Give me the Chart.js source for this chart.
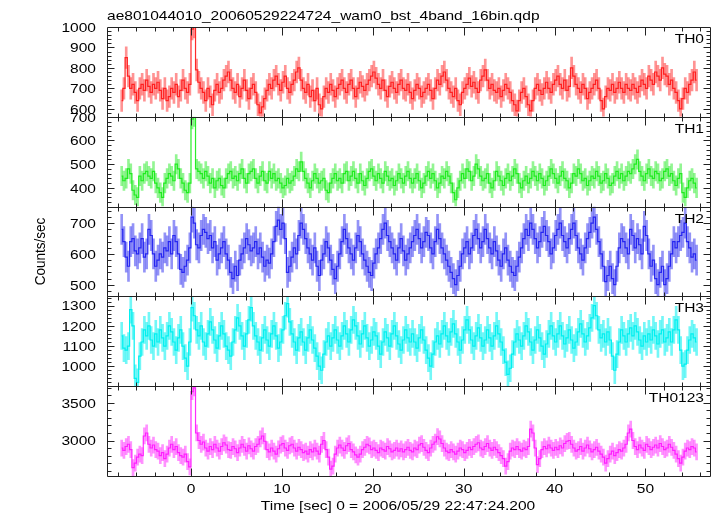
<!DOCTYPE html>
<html>
<head>
<meta charset="utf-8">
<script src="https://cdn.jsdelivr.net/npm/chart.js@4.4.1/dist/chart.umd.min.js"></script>
<style>
  html, body { margin: 0; padding: 0; background: #fff; }
  canvas { display: block; }
</style>
</head>
<body>
<canvas id="lc" width="717" height="516"></canvas>
<script>
// WAM bst light curve: 4 energy bands + sum, 0.25 s bins
const titleText = 'ae801044010_20060529224724_wam0_bst_4band_16bin.qdp';
const xTitle = 'Time [sec] 0 = 2006/05/29 22:47:24.200';
const yTitle = 'Counts/sec';
const panelNames = ['TH0', 'TH1', 'TH2', 'TH3', 'TH0123'];
const binStart = -7.75;
const binWidth = 0.25;

const th0 = [
  640, 700, 850, 760, 700, 720, 680, 640, 700, 720, 690, 740, 710, 680, 720, 700,
  730, 690, 650, 700, 640, 660, 700, 680, 720, 660, 690, 740, 700, 680, 720, 990,
  1000, 790, 730, 700, 680, 640, 700, 660, 620, 690, 720, 680, 700, 740, 760, 780,
  740, 700, 680, 720, 660, 700, 740, 690, 650, 700, 720, 680, 620, 580, 610, 650,
  690, 720, 700, 740, 760, 720, 690, 730, 760, 700, 680, 720, 740, 780, 800, 740,
  700, 680, 720, 660, 690, 640, 700, 620, 600, 660, 700, 680, 720, 690, 660, 700,
  720, 740, 700, 680, 720, 740, 700, 660, 700, 730, 710, 690, 720, 740, 760, 780,
  750, 720, 700, 740, 690, 660, 710, 730, 700, 680, 720, 740, 700, 690, 720, 680,
  650, 690, 720, 700, 660, 680, 700, 720, 690, 650, 700, 740, 720, 760, 780, 740,
  700, 680, 660, 700, 640, 620, 680, 700, 720, 750, 710, 730, 700, 680, 740, 760,
  790, 740, 700, 720, 690, 680, 700, 660, 690, 720, 700, 680, 640, 620, 590, 640,
  680, 700, 660, 620, 590, 640, 700, 720, 690, 670, 700, 730, 700, 680, 720, 740,
  760, 720, 700, 740, 690, 710, 800, 760, 720, 700, 680, 720, 700, 650, 680, 700,
  720, 740, 700, 640, 600, 660, 700, 690, 720, 680, 700, 730, 700, 680, 720, 700,
  690, 720, 700, 680, 710, 740, 720, 700, 760, 740, 720, 780, 760, 740, 800, 770,
  760, 720, 740, 700, 680, 640, 600, 650, 700, 680, 720, 740, 780, 740
];
const th1 = [
  450, 430, 440, 480, 460, 390, 370, 360, 450, 430, 460, 470, 450, 440, 470, 420,
  400, 380, 360, 420, 440, 460, 450, 430, 500, 480, 440, 420, 390, 380, 420, 690,
  700, 480, 470, 460, 440, 470, 450, 420, 440, 400, 430, 440, 410, 400, 440, 460,
  470, 440, 450, 430, 460, 480, 440, 420, 460, 470, 480, 440, 420, 450, 470, 430,
  420, 470, 440, 460, 430, 440, 420, 400, 410, 440, 420, 430, 450, 480, 470, 510,
  470, 440, 420, 400, 430, 460, 440, 420, 430, 440, 390, 380, 420, 440, 460, 430,
  440, 420, 460, 470, 430, 450, 470, 440, 420, 460, 430, 410, 440, 470, 480, 450,
  430, 460, 440, 420, 470, 450, 430, 440, 410, 430, 460, 440, 420, 450, 470, 440,
  420, 440, 460, 430, 400, 420, 450, 470, 440, 460, 430, 400, 420, 450, 440, 470,
  450, 420, 380, 350, 400, 430, 460, 440, 480, 470, 430, 450, 500, 480, 450, 430,
  440, 460, 420, 400, 430, 470, 450, 430, 410, 440, 460, 430, 450, 480, 460, 420,
  400, 430, 450, 420, 440, 470, 450, 430, 460, 440, 410, 430, 450, 480, 460, 440,
  420, 450, 470, 440, 430, 400, 420, 460, 450, 480, 460, 430, 440, 410, 430, 450,
  440, 470, 450, 420, 430, 460, 440, 410, 420, 450, 470, 440, 460, 430, 450, 470,
  460, 480, 500, 520, 470, 450, 430, 460, 480, 450, 440, 470, 460, 430, 440, 470,
  480, 450, 460, 430, 410, 440, 460, 380, 360, 400, 430, 440, 420, 400
];
const th2 = [
  680, 640, 590, 560, 640, 650, 610, 600, 620, 650, 590, 600, 680, 660, 600, 560,
  580, 600, 590, 620, 610, 640, 600, 660, 640, 600, 550, 540, 560, 580, 620, 720,
  700, 630, 620, 660, 680, 670, 650, 660, 620, 640, 580, 600, 620, 640, 600, 580,
  540, 520, 560, 530, 580, 600, 620, 650, 630, 610, 620, 640, 600, 620, 590, 560,
  580, 570, 600, 640, 690, 710, 680, 700, 650, 540, 560, 590, 620, 600, 660, 700,
  680, 650, 620, 600, 580, 620, 560, 530, 580, 600, 640, 620, 580, 550, 520, 560,
  600, 640, 680, 650, 620, 600, 580, 620, 660, 640, 600, 580, 560, 540, 530, 570,
  600, 620, 650, 680, 700, 660, 640, 620, 600, 580, 620, 650, 610, 580, 600, 620,
  640, 660, 680, 650, 620, 640, 670, 660, 620, 600, 640, 680, 650, 620, 600, 580,
  560, 540, 520, 500, 530, 560, 600, 620, 640, 600, 620, 660, 680, 650, 620, 640,
  680, 650, 620, 600, 640, 610, 580, 560, 600, 620, 580, 560, 540, 530, 560, 590,
  620, 650, 680, 660, 700, 680, 650, 620, 640, 670, 690, 660, 640, 600, 620, 660,
  680, 700, 660, 640, 620, 650, 680, 700, 660, 620, 600, 580, 620, 650, 670, 700,
  720, 680, 640, 600, 560, 510, 530, 560, 520, 500, 560, 620, 650, 640, 620, 600,
  680, 660, 620, 650, 630, 600, 690, 660, 600, 560, 580, 520, 500, 540, 560, 500,
  520, 560, 600, 640, 620, 640, 660, 670, 700, 640, 620, 590, 600, 580
];
const th3 = [
  1150, 1090, 1080, 1100, 1280, 1200, 940, 920, 1050, 1120, 1180, 1150, 1200, 1130, 1100, 1160,
  1120, 1180, 1140, 1100, 1150, 1200, 1170, 1120, 1080, 1140, 1180, 1100, 1040, 1000, 1120, 1290,
  1250, 1180, 1150, 1200, 1120, 1100, 1160, 1220, 1180, 1130, 1090, 1150, 1200, 1160, 1100, 1080,
  1050, 1120, 1180, 1240, 1200, 1150, 1100, 1160, 1230, 1290, 1200, 1150, 1120, 1080, 1140, 1180,
  1130, 1100, 1160, 1200, 1150, 1090, 1120, 1180, 1250, 1310, 1220, 1160, 1120, 1080, 1140, 1170,
  1120, 1080, 1140, 1180, 1130, 1090, 1050, 1000, 980, 1060, 1120, 1150, 1100, 1140, 1180, 1130,
  1100, 1150, 1200, 1160, 1120, 1180, 1230, 1200, 1150, 1110, 1160, 1200, 1140, 1100, 1130, 1170,
  1150, 1100, 1060, 1120, 1170, 1140, 1100, 1160, 1200, 1150, 1110, 1080, 1130, 1180, 1140, 1120,
  1160, 1120, 1090, 1140, 1180, 1130, 1080, 1040, 1000, 1060, 1120, 1150, 1110, 1160, 1200, 1150,
  1120, 1170, 1210, 1160, 1120, 1080, 1130, 1180, 1230, 1180, 1130, 1100, 1150, 1190, 1140, 1100,
  1130, 1180, 1140, 1100, 1150, 1200, 1160, 1120, 1080, 1020, 960, 990, 1060, 1120, 1160, 1130,
  1100, 1150, 1200, 1170, 1120, 1080, 1130, 1180, 1140, 1100, 1060, 1110, 1160, 1200, 1150, 1120,
  1160, 1200, 1150, 1110, 1140, 1180, 1130, 1090, 1120, 1170, 1210, 1160, 1120, 1150, 1190, 1240,
  1300, 1250, 1180, 1140, 1160, 1120, 1170, 1130, 1050, 980, 1060, 1120, 1180, 1150, 1120, 1160,
  1190, 1150, 1200, 1170, 1130, 1100, 1150, 1120, 1160, 1130, 1180, 1150, 1110, 1160, 1180, 1120,
  1140, 1170, 1120, 1180, 1230, 1180, 1080, 1000, 1010, 1080, 1130, 1160, 1140, 1120
];
const th0123 = [
  2900, 2870, 2920, 2950, 2880, 2640, 2700, 2780, 2820, 2800, 3060, 3100, 2950, 2900, 2940, 2880,
  2860, 2800, 2840, 2760, 2820, 2900, 2950, 2880, 2920, 2840, 2800, 2780, 2820, 2720, 2650, 3650,
  3700, 3100, 3000, 2950, 2980, 2900, 2860, 2920, 2880, 2950, 2900, 2860, 2920, 2970, 2940, 2880,
  2870, 2920, 2890, 2840, 2900, 2950, 2910, 2860, 2930, 2890, 2860, 2920, 2950, 3020, 3060, 2990,
  2880, 2850, 2900, 2860, 2820, 2890, 2940, 2960, 2900, 2870, 2930, 2950, 2900, 2860, 2910, 2880,
  2840, 2860, 2820, 2880, 2850, 2900, 2860, 2820, 2950, 3000, 2880, 2780, 2620, 2660, 2820, 2900,
  2940, 2900, 2870, 2930, 2960, 2880, 2850, 2810, 2780, 2820, 2880, 2910, 2950, 2930, 2880, 2900,
  2870, 2840, 2900, 2880, 2860, 2920, 2890, 2850, 2870, 2900, 2860, 2890, 2850, 2880, 2910, 2870,
  2850, 2900, 2880, 2940, 2960, 2910, 2870, 2840, 2900, 2950, 2980, 3050, 3020, 2960, 2900, 2860,
  2840, 2880, 2850, 2820, 2860, 2900, 2880, 2840, 2870, 2910, 2880, 2920, 2950, 2970, 2900, 2880,
  2920, 2960, 2900, 2870, 2910, 2880, 2840, 2800, 2760, 2660, 2720, 2860, 2900, 2880, 2920, 2880,
  2860, 2900, 2880, 2920, 3150, 3100, 2900, 2680, 2760, 2880, 2920, 2890, 2940, 2900, 2870, 2910,
  2880, 2930, 2900, 2960, 2990, 3000, 2950, 2900, 2860, 2880, 2920, 2860, 2900, 2940, 2890, 2850,
  2880, 2910, 2860, 2820, 2780, 2700, 2760, 2820, 2860, 2800, 2840, 2880, 2860, 2900, 2950, 3100,
  3150, 3000, 2920, 2880, 2940, 2900, 2870, 2950, 2920, 2880, 2910, 2940, 2900, 2960, 2920, 2880,
  2900, 2950, 2910, 2870, 2820, 2760, 2700, 2780, 2860, 2900, 2880, 2920, 2900, 2850
];

// typical 1-sigma error per panel (counts/sec)
const errHalf = [53, 41, 49, 67, 107];

// axis ranges and tick steps
const xMin = -9.24, xMax = 57.1;
const xMajor = 10, xMinor = 2;
const yMin = [561, 321, 462, 901, 2528];
const yMax = [1000, 700, 754, 1346, 3722];
const yMajor = [100, 100, 100, 100, 500];
const yMinor = [20, 20, 20, 20, 100];

const lineColors = ['rgba(255,20,20,0.9)', 'rgba(20,235,20,0.9)', 'rgba(20,20,240,0.85)', 'rgba(0,240,240,1)', 'rgba(255,20,255,0.9)'];
const barColors = ['rgba(255,40,40,0.5)', 'rgba(40,235,40,0.5)', 'rgba(40,40,240,0.5)', 'rgba(0,240,240,0.55)', 'rgba(255,40,255,0.5)'];

const FONT = '13.5px "Liberation Sans", Arial, sans-serif';
const STRETCH = 1.15;  // qdp text is wide

const series = [th0, th1, th2, th3, th0123];
const axisIds = ['y0', 'y1', 'y2', 'y3', 'y4'];
const times = th0.map((_, i) => binStart + binWidth * (i + 0.5));

// round-number ticks only, between the panel limits
function stepTicks(min, max, step) {
  const out = [];
  for (let v = Math.ceil(min / step) * step; v <= max; v += step) out.push({ value: v });
  return out;
}

const datasets = [];
series.forEach((vals, p) => {
  datasets.push({
    type: 'line',
    yAxisID: axisIds[p],
    order: 1,
    data: vals.map((v, i) => ({ x: times[i], y: v })),
    borderColor: lineColors[p],
    borderWidth: 1.2,
    pointRadius: 0,
    stepped: 'middle',
    fill: false
  });
  datasets.push({
    type: 'bar',
    yAxisID: axisIds[p],
    order: 2,
    grouped: false,
    data: vals.map((v, i) => ({ x: times[i], y: [v - errHalf[p], v + errHalf[p]] })),
    backgroundColor: barColors[p],
    borderWidth: 0,
    barThickness: 2
  });
});

const scales = {
  x: {
    type: 'linear', position: 'bottom', min: xMin, max: xMax, offset: false,
    ticks: { display: false },
    grid: { display: false }, border: { display: false },
    afterBuildTicks: s => { s.ticks = stepTicks(xMin, xMax, xMajor); },
    afterFit: s => { s.height = 40; }
  }
};
axisIds.forEach((id, p) => {
  scales[id] = {
    type: 'linear', position: 'left', stack: 'panels', stackWeight: 1, weight: 5 - p,
    min: yMin[p], max: yMax[p],
    ticks: { display: false },
    grid: { display: false }, border: { display: false },
    afterBuildTicks: s => { s.ticks = stepTicks(yMin[p], yMax[p], yMajor[p]); },
    afterFit: s => { s.width = 107; }
  };
});

function stretchText(ctx, text, x, y, align) {
  ctx.save();
  ctx.translate(x, y);
  ctx.scale(STRETCH, 1);
  ctx.textAlign = align;
  ctx.textBaseline = 'alphabetic';
  ctx.fillText(text, 0, 0);
  ctx.restore();
}

// keep each dataset inside its own panel
const panelClip = {
  id: 'panelClip',
  beforeDatasetDraw(chart, args) {
    const s = chart.scales[args.meta.yAxisID];
    const a = chart.chartArea;
    chart.ctx.save();
    chart.ctx.beginPath();
    chart.ctx.rect(a.left, s.top, a.right - a.left, s.bottom - s.top);
    chart.ctx.clip();
  },
  afterDatasetDraw(chart) {
    chart.ctx.restore();
  }
};

// frames, inward ticks, labels
const qdpFrame = {
  id: 'qdpFrame',
  afterDraw(chart) {
    const { ctx, chartArea: a } = chart;
    const xs = chart.scales.x;
    const L = Math.round(a.left) + 0.5, R = Math.round(a.right) + 0.5;
    ctx.save();
    ctx.strokeStyle = '#222';
    ctx.lineWidth = 1;
    axisIds.forEach((id, p) => {
      const ys = chart.scales[id];
      const top = Math.round(ys.top) + 0.5, bot = Math.round(ys.bottom) + 0.5;
      ctx.beginPath();
      ctx.rect(L, top, R - L, bot - top);
      for (let v = Math.ceil(xs.min / xMinor) * xMinor; v <= xs.max; v += xMinor) {
        const px = Math.round(xs.getPixelForValue(v)) + 0.5;
        const len = v % xMajor === 0 ? 8 : 4;
        ctx.moveTo(px, top); ctx.lineTo(px, top + len);
        ctx.moveTo(px, bot); ctx.lineTo(px, bot - len);
      }
      for (let v = Math.ceil(ys.min / yMinor[p]) * yMinor[p]; v < ys.max; v += yMinor[p]) {
        if (v <= ys.min) continue;
        const py = Math.round(ys.getPixelForValue(v)) + 0.5;
        const len = v % yMajor[p] === 0 ? 7 : 4;
        ctx.moveTo(L, py); ctx.lineTo(L + len, py);
        ctx.moveTo(R, py); ctx.lineTo(R - len, py);
      }
      ctx.stroke();
    });

    ctx.fillStyle = '#000';
    ctx.font = FONT;
    axisIds.forEach((id, p) => {
      const ys = chart.scales[id];
      ys.ticks.forEach(t => {
        stretchText(ctx, String(t.value), a.left - 11, ys.getPixelForValue(t.value) + 4.8, 'right');
      });
      stretchText(ctx, panelNames[p], 704, ys.top + 16, 'right');
    });
    xs.ticks.forEach(t => {
      stretchText(ctx, String(t.value), xs.getPixelForValue(t.value), 492.5, 'center');
    });
    stretchText(ctx, titleText, 107, 19.5, 'left');
    stretchText(ctx, xTitle, 398, 510, 'center');

    ctx.save();
    ctx.translate(45, (a.top + a.bottom) / 2);
    ctx.scale(STRETCH, 1);
    ctx.rotate(-Math.PI / 2);
    ctx.textAlign = 'center';
    ctx.textBaseline = 'alphabetic';
    ctx.fillText(yTitle, 0, 0);
    ctx.restore();
    ctx.restore();
  }
};

new Chart(document.getElementById('lc'), {
  type: 'line',
  data: { datasets },
  options: {
    responsive: false,
    animation: false,
    events: [],
    layout: { padding: { top: 27, right: 7, left: 0, bottom: 0 } },
    scales,
    plugins: { legend: { display: false }, tooltip: { enabled: false }, title: { display: false } }
  },
  plugins: [panelClip, qdpFrame]
});
</script>
</body>
</html>
